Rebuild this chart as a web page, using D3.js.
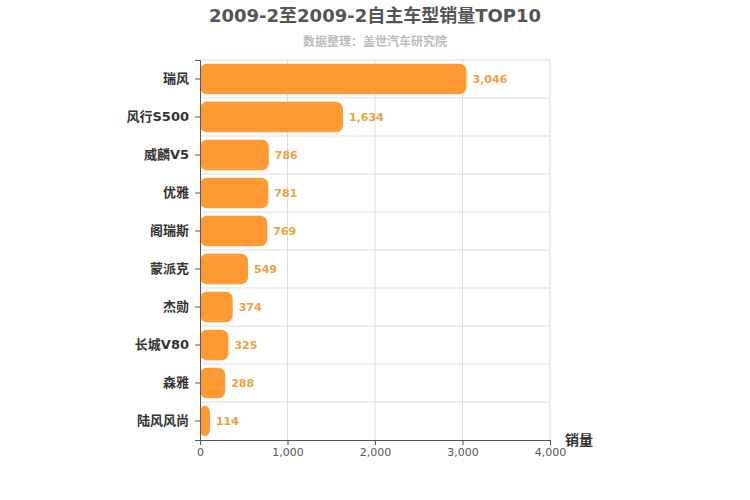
<!DOCTYPE html>
<html><head><meta charset="utf-8">
<script src="https://cdn.jsdelivr.net/npm/d3@7"></script>
<style>body{margin:0;background:#fff}svg text{font-family:"DejaVu Sans","Noto Sans CJK SC",sans-serif}</style>
</head><body><svg id="c" width="750" height="500"></svg>
<script>
var categories = ["瑞风","风行S500","威麟V5","优雅","阁瑞斯","蒙派克","杰勋","长城V80","森雅","陆风风尚"];
var sales = [3046,1634,786,781,769,549,374,325,288,114];
var ticks = [0,1000,2000,3000,4000];

var svg = d3.select("#c");
var x = d3.scaleLinear().domain([0,4000]).range([200,550]);
var y = d3.scaleBand().domain(categories).range([60,440]).paddingInner(0.2).paddingOuter(0.1);
var band = d3.scaleBand().domain(categories).range([60,440]);

svg.append("text").attr("x",375).attr("y",22).attr("text-anchor","middle")
  .attr("font-size",18).attr("font-weight","bold").attr("fill","#555")
  .text("2009-2至2009-2自主车型销量TOP10");
svg.append("text").attr("x",375).attr("y",46).attr("text-anchor","middle")
  .attr("font-size",12).attr("font-weight","bold").attr("fill","#bbb").text("数据整理：盖世汽车研究院");

// grid
svg.selectAll(".gx").data(ticks.slice(1)).enter().append("line")
  .attr("x1",d=>x(d)).attr("x2",d=>x(d)).attr("y1",60).attr("y2",440)
  .attr("stroke","#ddd");
svg.selectAll(".gy").data(categories).enter().append("line")
  .attr("x1",200).attr("x2",550).attr("y1",d=>band(d)).attr("y2",d=>band(d))
  .attr("stroke","#ddd");

svg.selectAll(".bar").data(categories).enter().append("rect")
  .attr("x",x(0)).attr("y",d=>y(d)).attr("height",y.bandwidth())
  .attr("width",(d,i)=>x(sales[i])-x(0)).attr("rx",7)
  .attr("fill","#ff9933");

svg.selectAll(".val").data(categories).enter().append("text")
  .attr("x",(d,i)=>x(sales[i])+6).attr("y",d=>y(d)+y.bandwidth()/2+4)
  .attr("font-size",11).attr("font-weight","bold").attr("fill","#f0a040")
  .text((d,i)=>d3.format(",")(sales[i]));

var ya = svg.append("g").attr("transform","translate(200,0)")
  .call(d3.axisLeft(band).tickSize(5).tickPadding(6));
ya.selectAll("text").attr("font-size",13).attr("font-weight","bold").attr("fill","#333");
ya.selectAll("line,path").attr("stroke","#555");

var xa = svg.append("g").attr("transform","translate(0,440)")
  .call(d3.axisBottom(x).tickValues(ticks).tickFormat(d3.format(",")).tickSize(5));
xa.selectAll("text").attr("font-size",11).attr("fill","#555");
xa.selectAll("line,path").attr("stroke","#555");

svg.append("text").attr("x",565).attr("y",445).attr("font-size",14)
  .attr("font-weight","bold").attr("fill","#333").text("销量");
</script></body></html>
